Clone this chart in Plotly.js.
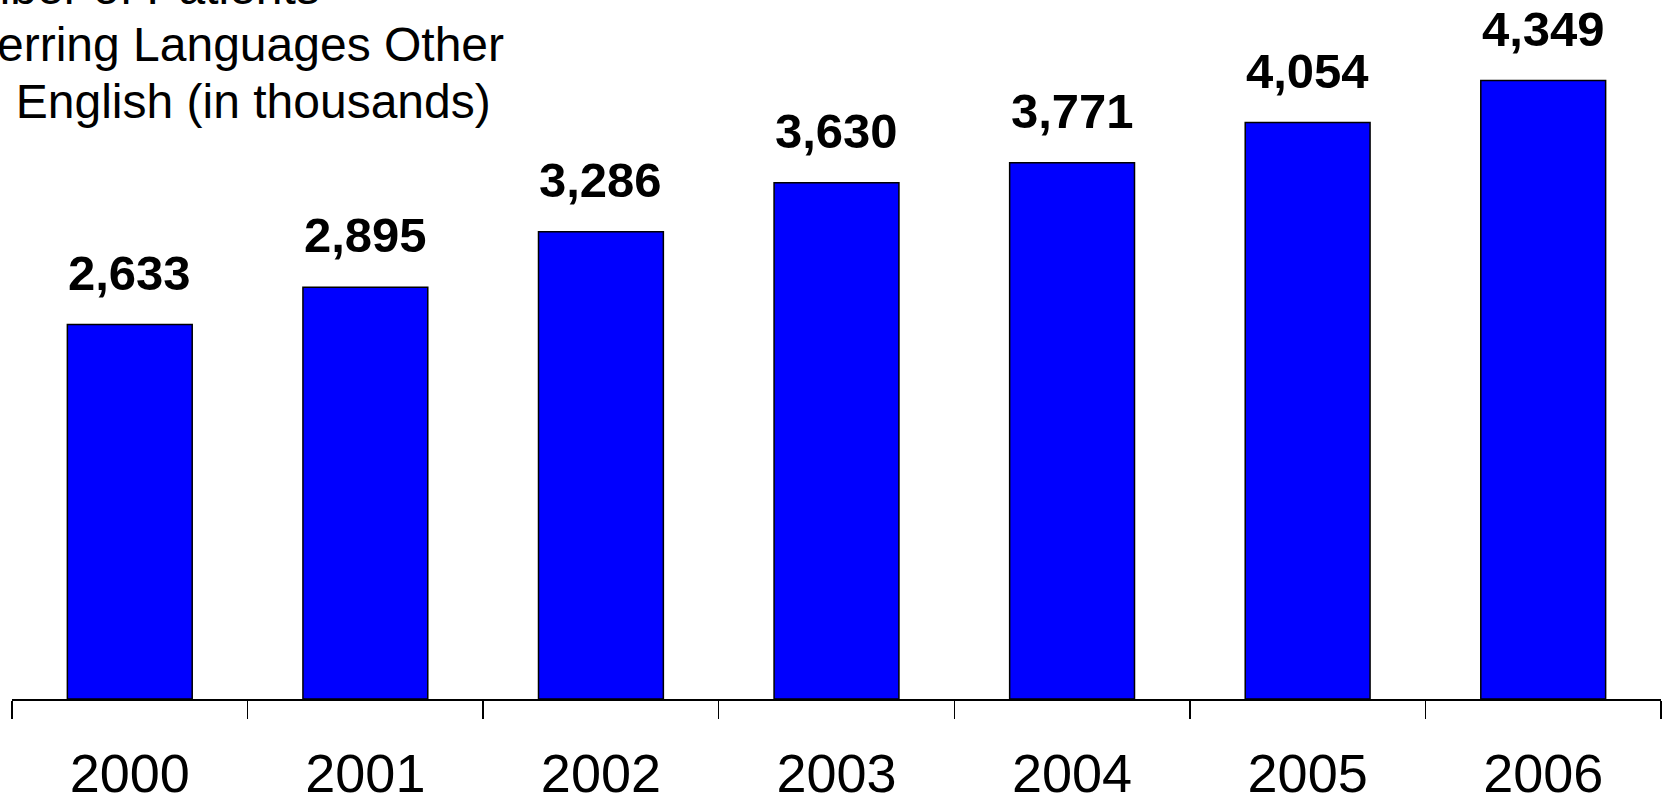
<!DOCTYPE html>
<html>
<head>
<meta charset="utf-8">
<script src="https://cdn.plot.ly/plotly-3.0.1.min.js"></script>
<style>html,body{margin:0;padding:0;background:#fff;}#chart{width:1666px;height:803px;}</style>
</head>
<body>
<div id="chart"></div>
<script>
const years = ["2000", "2001", "2002", "2003", "2004", "2005", "2006"];
const patients = [2633, 2895, 3286, 3630, 3771, 4054, 4349];
const valueLabels = ["2,633", "2,895", "3,286", "3,630", "3,771", "4,054", "4,349"];
const titleLines = ["Number of Patients", "Preferring Languages Other", "than English (in thousands)"];

const FONT = "Liberation Sans, Arial, Helvetica, sans-serif";

const trace = {
  type: "bar",
  x: years,
  y: patients,
  marker: {color: "#0000FF", line: {color: "#000000", width: 1.5}},
  hoverinfo: "x+y"
};

const annotations = years.map((yr, i) => ({
  x: i, y: patients[i], xref: "x", yref: "y",
  text: "<b>" + valueLabels[i] + "</b>",
  showarrow: false, xanchor: "center", yanchor: "bottom",
  yshift: 23,
  font: {family: FONT, size: 49, color: "#000"}
}));

titleLines.forEach((line, i) => {
  annotations.push({
    x: 0, y: 1, xref: "paper", yref: "paper",
    text: line, showarrow: false, xanchor: "left", yanchor: "top",
    align: "left",
    xshift: -105, yshift: 41 - i * 57,
    font: {family: FONT, size: 48, color: "#000"}
  });
});

const layout = {
  width: 1666, height: 803,
  margin: {l: 12, r: 5, t: 0, b: 104},
  paper_bgcolor: "#fff", plot_bgcolor: "#fff",
  showlegend: false,
  bargap: 0.47,
  xaxis: {
    type: "category",
    categoryorder: "array", categoryarray: years,
    range: [-0.5, 6.5], autorange: false,
    showline: true, linecolor: "#000", linewidth: 1.5,
    ticks: "outside", ticklen: 18, tickwidth: 1.5, tickcolor: "#000",
    tickson: "boundaries",
    tickangle: 0,
    ticklabelstandoff: 27,
    showgrid: false, zeroline: false,
    tickfont: {family: FONT, size: 54, color: "#000"}
  },
  yaxis: {
    range: [0, 4916], autorange: false, visible: false, showgrid: false, zeroline: false, fixedrange: true
  },
  annotations: annotations
};

Plotly.newPlot("chart", [trace], layout, {displayModeBar: false, staticPlot: true});
</script>
</body>
</html>
